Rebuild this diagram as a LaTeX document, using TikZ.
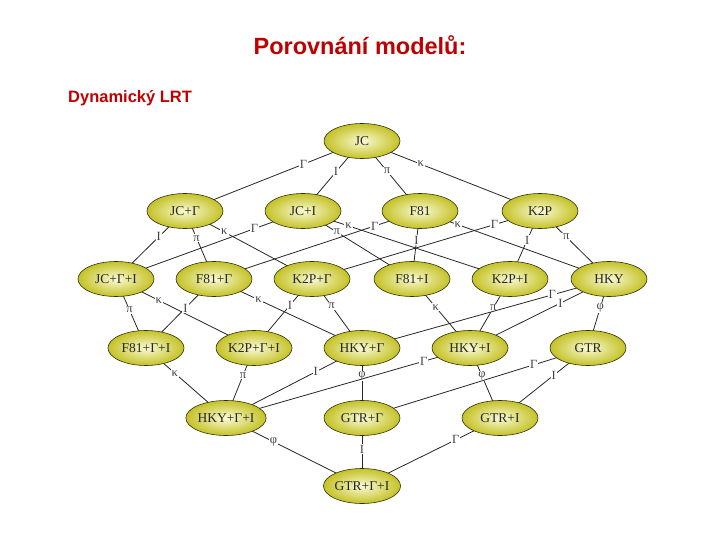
\documentclass[tikz,border=0pt]{standalone}
\usepackage{fontspec}
\setmainfont{Liberation Serif}
\newfontfamily\headfont{Liberation Sans}
\usetikzlibrary{shapes.geometric}
\pgfdeclarelayer{bg}
\pgfsetlayers{bg,main}
\definecolor{titlered}{RGB}{190,0,0}
\definecolor{nodeout}{RGB}{196,194,38}
\definecolor{nodein}{RGB}{250,250,212}
\definecolor{nodeline}{RGB}{50,50,15}
\tikzset{
  model/.style={ellipse, draw=nodeline, line width=0.6pt, minimum width=76pt,
    minimum height=35pt, inner sep=0pt, inner color=nodein, outer color=nodeout,
    font=\fontsize{13.5}{13.5}\selectfont, text=black!85},
  edge/.style={draw=black!85, line width=0.8pt},
  lbl/.style={fill=white, inner sep=1pt, font=\fontsize{12.5}{12.5}\selectfont, text=black!75},
}
\begin{document}
\begin{tikzpicture}[x=1pt,y=-1pt]
\useasboundingbox (0,0) rectangle (720,540);
\node[anchor=base, font=\headfont\bfseries\fontsize{23.5}{23.5}\selectfont, text=titlered] (title) at (360,55) {Porovnání modelů:};
\node[anchor=base west, inner sep=0pt, font=\headfont\bfseries\fontsize{16.5}{16.5}\selectfont, text=titlered] (sub) at (68,103) {Dynamický LRT};
% nodes
\node[model] (JC) at (362,141) {JC};
\node[model] (JCG) at (185,211) {JC+Γ};
\node[model] (JCI) at (303,211) {JC+I};
\node[model] (F81) at (420,211) {F81};
\node[model] (K2P) at (540,211) {K2P};
\node[model] (JCGI) at (116,279) {JC+Γ+I};
\node[model] (F81G) at (214,279) {F81+Γ};
\node[model] (K2PG) at (312,279) {K2P+Γ};
\node[model] (F81I) at (412,279) {F81+I};
\node[model] (K2PI) at (510,279) {K2P+I};
\node[model] (HKY) at (609,279) {HKY};
\node[model] (F81GI) at (146,348) {F81+Γ+I};
\node[model] (K2PGI) at (254,348) {K2P+Γ+I};
\node[model] (HKYG) at (362,348) {HKY+Γ};
\node[model] (HKYI) at (470,348) {HKY+I};
\node[model] (GTR) at (588,348) {GTR};
\node[model] (HKYGI) at (226,418) {HKY+Γ+I};
\node[model] (GTRG) at (362,418) {GTR+Γ};
\node[model] (GTRI) at (500,418) {GTR+I};
\node[model] (GTRGI) at (362,486) {GTR+Γ+I};
\begin{pgfonlayer}{bg}
% row 0 -> 1
\draw[edge] (JC.center) -- node[lbl,pos=.33]{Γ} (JCG.center);
\draw[edge] (JC.center) -- node[lbl,pos=.44]{I} (JCI.center);
\draw[edge] (JC.center) -- node[lbl,pos=.43]{π} (F81.center);
\draw[edge] (JC.center) -- node[lbl,pos=.33]{κ} (K2P.center);
% row 1 -> 2
\draw[edge] (JCG.center) -- node[lbl,pos=.38]{I} (JCGI.center);
\draw[edge] (JCG.center) -- node[lbl,pos=.40]{π} (F81G.center);
\draw[edge] (JCG.center) -- node[lbl,pos=.31]{κ} (K2PG.center);
\draw[edge] (JCI.center) -- node[lbl,pos=.26]{Γ} (JCGI.center);
\draw[edge] (JCI.center) -- node[lbl,pos=.31]{π} (F81I.center);
\draw[edge] (JCI.center) -- node[lbl,pos=.22]{κ} (K2PI.center);
\draw[edge] (F81.center) -- node[lbl,pos=.22]{Γ} (F81G.center);
\draw[edge] (F81.center) -- node[lbl,pos=.43]{I} (F81I.center);
\draw[edge] (F81.center) -- node[lbl,pos=.20]{κ} (HKY.center);
\draw[edge] (K2P.center) -- node[lbl,pos=.20]{Γ} (K2PG.center);
\draw[edge] (K2P.center) -- node[lbl,pos=.43]{I} (K2PI.center);
\draw[edge] (K2P.center) -- node[lbl,pos=.38]{π} (HKY.center);
% row 2 -> 3
\draw[edge] (JCGI.center) -- node[lbl,pos=.45]{π} (F81GI.center);
\draw[edge] (JCGI.center) -- node[lbl,pos=.31]{κ} (K2PGI.center);
\draw[edge] (F81G.center) -- node[lbl,pos=.42]{I} (F81GI.center);
\draw[edge] (F81G.center) -- node[lbl,pos=.30]{κ} (HKYG.center);
\draw[edge] (K2PG.center) -- node[lbl,pos=.38]{I} (K2PGI.center);
\draw[edge] (K2PG.center) -- node[lbl,pos=.39]{π} (HKYG.center);
\draw[edge] (F81I.center) -- node[lbl,pos=.41]{κ} (HKYI.center);
\draw[edge] (K2PI.center) -- node[lbl,pos=.42]{π} (HKYI.center);
\draw[edge] (HKY.center) -- node[lbl,pos=.23]{Γ} (HKYG.center);
\draw[edge] (HKY.center) -- node[lbl,pos=.35]{I} (HKYI.center);
\draw[edge] (HKY.center) -- node[lbl,pos=.42]{φ} (GTR.center);
% row 3 -> 4
\draw[edge] (F81GI.center) -- node[lbl,pos=.36]{κ} (HKYGI.center);
\draw[edge] (K2PGI.center) -- node[lbl,pos=.39]{π} (HKYGI.center);
\draw[edge] (HKYG.center) -- node[lbl,pos=.34]{I} (HKYGI.center);
\draw[edge] (HKYG.center) -- node[lbl,pos=.40]{φ} (GTRG.center);
\draw[edge] (HKYI.center) -- node[lbl,pos=.19]{Γ} (HKYGI.center);
\draw[edge] (HKYI.center) -- node[lbl,pos=.40]{φ} (GTRI.center);
\draw[edge] (GTR.center) -- node[lbl,pos=.24]{Γ} (GTRG.center);
\draw[edge] (GTR.center) -- node[lbl,pos=.39]{I} (GTRI.center);
% row 4 -> 5
\draw[edge] (HKYGI.center) -- node[lbl,pos=.35]{φ} (GTRGI.center);
\draw[edge] (GTRG.center) -- node[lbl,pos=.46]{I} (GTRGI.center);
\draw[edge] (GTRI.center) -- node[lbl,pos=.32]{Γ} (GTRGI.center);
\end{pgfonlayer}
\end{tikzpicture}
\end{document}
